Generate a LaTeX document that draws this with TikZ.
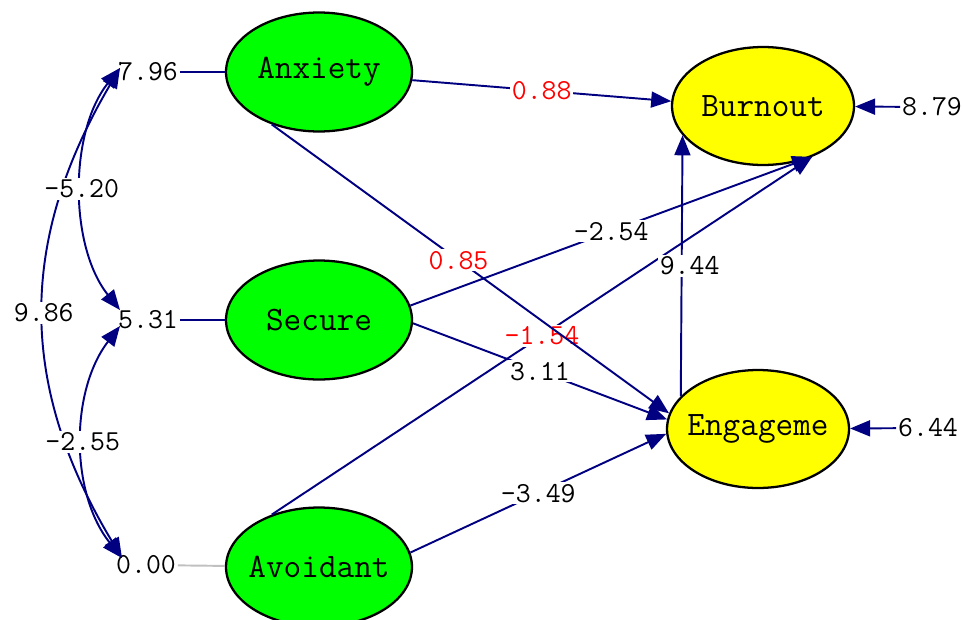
\documentclass[tikz,border=0pt]{standalone}
\usepackage{tikz}
\usetikzlibrary{arrows.meta,shapes.geometric}

\definecolor{pathblue}{RGB}{0,0,128}
\definecolor{latgreen}{RGB}{0,255,0}
\definecolor{latyellow}{RGB}{255,255,0}
\definecolor{tred}{RGB}{255,0,0}
\definecolor{fixgray}{RGB}{192,192,192}

\tikzset{
	latent/.style={ellipse, draw=black, line width=1.3pt, inner ysep=0pt, inner xsep=-0.3cm, minimum width=3.72cm, minimum height=2.38cm, font=\ttfamily\fontsize{19.5}{20}\selectfont},
	exo/.style={latent, fill=latgreen},
	endo/.style={latent, fill=latyellow, minimum width=3.64cm, minimum height=2.36cm},
	est/.style={fill=white, inner sep=1pt, text=black, font=\ttfamily\fontsize{16.5}{17}\selectfont},
	nonsig/.style={est, text=tred},
	link/.style={draw=pathblue, line width=1.1pt, -{Triangle[length=0.4cm,width=0.32cm]}},
	covar/.style={draw=pathblue, line width=1.1pt, {Triangle[length=0.4cm,width=0.32cm]}-{Triangle[length=0.4cm,width=0.32cm]}}
}

\begin{document}
\begin{tikzpicture}[x=0.02cm, y=-0.02cm]
			%%%%% START %%%%%
			\useasboundingbox (0,0) rectangle (962,619);
			
			% latent variables
			\node[exo] (anx) at (319,72) {Anxiety};
			\node[exo] (sec) at (319,320) {Secure};
			\node[exo] (avo) at (319,567) {Avoidant};
			\node[endo] (bur) at (763,106) {Burnout};
			\node[endo] (eng) at (758,429) {Engageme};
			
			% variances of the exogenous ones
			\node[est] (v-anx) at (148,72) {7.96};
			\node[est] (v-sec) at (148,320) {5.31};
			\node[est] (v-avo) at (146,565) {0.00};
			\draw[pathblue, line width=1.1pt] (v-anx) -- (anx);
			\draw[pathblue, line width=1.1pt] (v-sec) -- (sec);
			\draw[fixgray, line width=1.1pt] (v-avo) -- (avo);
			
			% covariances
			\coordinate (c-anx) at (120,68);
			\coordinate (c-sec-t) at (120,310);
			\coordinate (c-sec-b) at (120,326);
			\coordinate (c-avo) at (122,558);
			\draw[covar] (c-anx) .. controls +(-102,173) and +(-104,-173) .. node[est] {9.86} (c-avo);
			\draw[covar] (c-anx) .. controls +(-51,64) and +(-51,-64) .. node[est] {-5.20} (c-sec-t);
			\draw[covar] (c-sec-b) .. controls +(-50,65) and +(-52,-65) .. node[est] {-2.55} (c-avo);
			
			% structural paths
			\draw[link] (anx.355) -- node[nonsig] {0.88} (bur.177);
			\draw[link] (sec.9) -- node[est] {-2.54} (bur.314);
			\draw[link] (avo.132) -- node[nonsig] {-1.54} (bur.314);
			\draw[link] (sec.358) -- node[est] {3.11} (eng.174);
			\draw[link] (anx.228) -- node[nonsig, pos=0.47] {0.85} (eng.170);
			\draw[link] (avo.9) -- node[est] {-3.49} (eng.183);
			\draw[link] (eng.157) -- node[est, xshift=0.16cm] {9.44} (bur.200);
			
			% error variances
			\node[est] (e-bur) at (932,107) {8.79};
			\node[est] (e-eng) at (928,428) {6.44};
			\draw[link] (e-bur) -- (bur);
			\draw[link] (e-eng) -- (eng);
			
			%%%%% END %%%%%
\end{tikzpicture}
\end{document}
